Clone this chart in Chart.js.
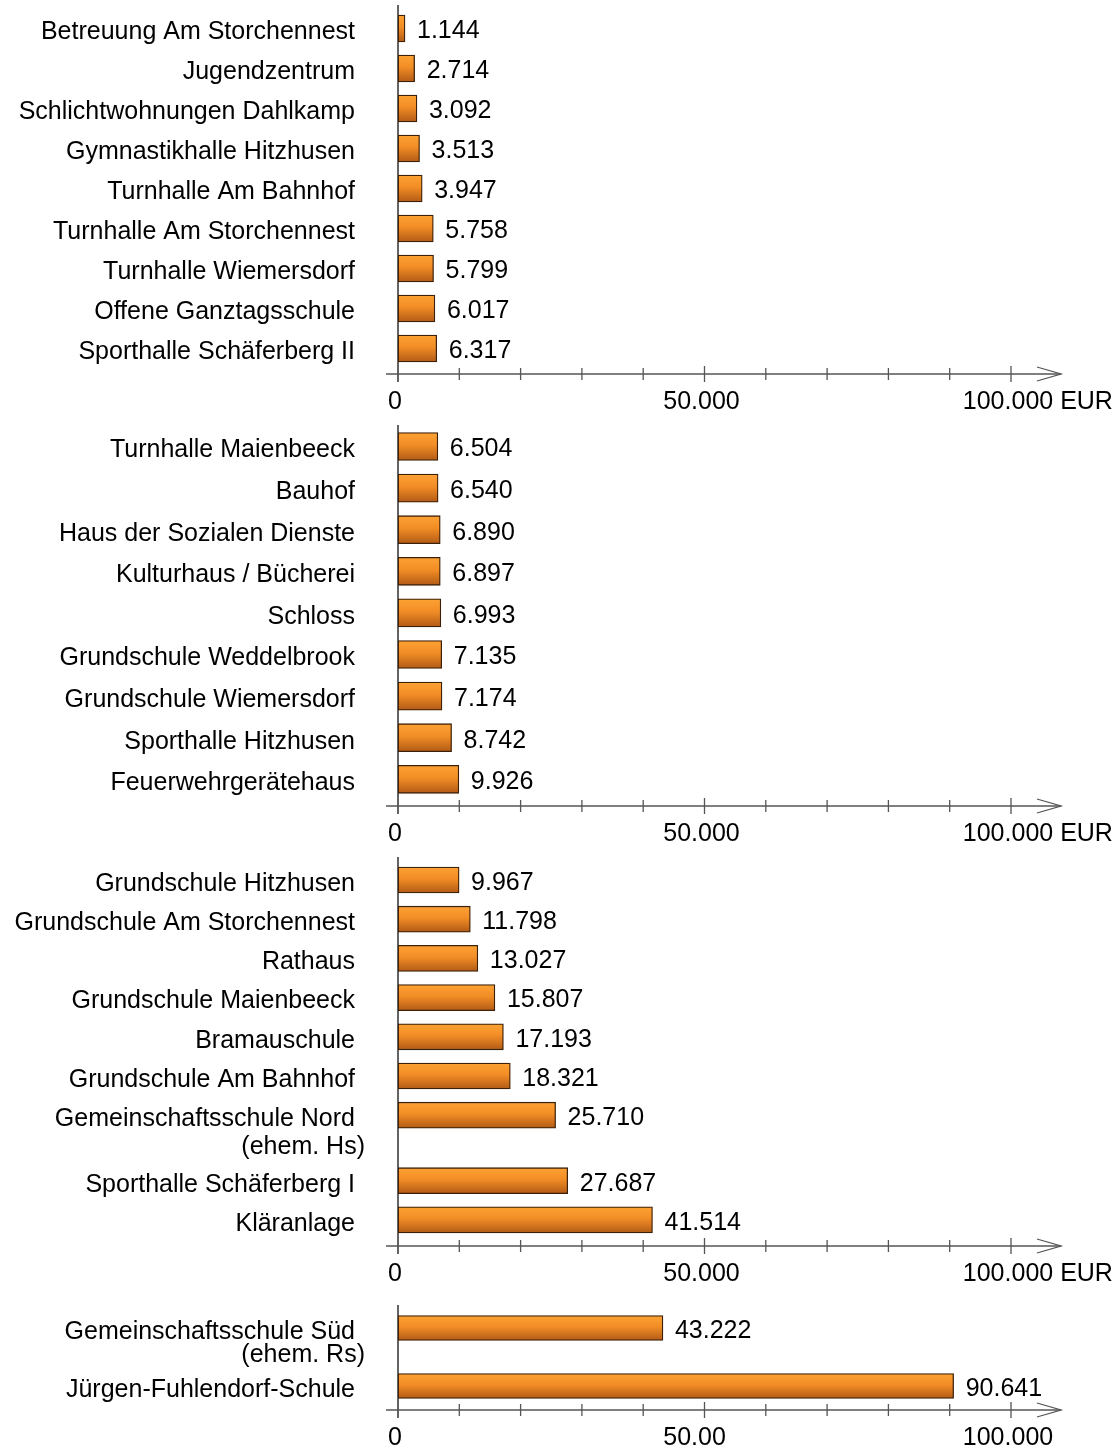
<!DOCTYPE html>
<html>
<head>
<meta charset="utf-8">
<script src="https://cdn.jsdelivr.net/npm/chart.js@4.4.0/dist/chart.umd.min.js"></script>
<style>
  html, body { margin: 0; padding: 0; background: #fff; }
  #wrap { position: relative; width: 1119px; height: 1447px; overflow: hidden; }
  canvas { position: absolute; left: 0; }
</style>
</head>
<body>
<div id="wrap">
  <canvas id="p1"></canvas>
  <canvas id="p2"></canvas>
  <canvas id="p3"></canvas>
  <canvas id="p4"></canvas>
</div>
<script>
// data
const names1 = ['Betreuung Am Storchennest', 'Jugendzentrum', 'Schlichtwohnungen Dahlkamp', 'Gymnastikhalle Hitzhusen', 'Turnhalle Am Bahnhof', 'Turnhalle Am Storchennest', 'Turnhalle Wiemersdorf', 'Offene Ganztagsschule', 'Sporthalle Schäferberg II'];
const values1 = [1144, 2714, 3092, 3513, 3947, 5758, 5799, 6017, 6317];

const names2 = ['Turnhalle Maienbeeck', 'Bauhof', 'Haus der Sozialen Dienste', 'Kulturhaus / Bücherei', 'Schloss', 'Grundschule Weddelbrook', 'Grundschule Wiemersdorf', 'Sporthalle Hitzhusen', 'Feuerwehrgerätehaus'];
const values2 = [6504, 6540, 6890, 6897, 6993, 7135, 7174, 8742, 9926];

const names3 = ['Grundschule Hitzhusen', 'Grundschule Am Storchennest', 'Rathaus', 'Grundschule Maienbeeck', 'Bramauschule', 'Grundschule Am Bahnhof', ['Gemeinschaftsschule Nord', '(ehem. Hs)'], 'Sporthalle Schäferberg I', 'Kläranlage'];
const values3 = [9967, 11798, 13027, 15807, 17193, 18321, 25710, 27687, 41514];

const names4 = [['Gemeinschaftsschule Süd', '(ehem. Rs)'], 'Jürgen-Fuhlendorf-Schule'];
const values4 = [43222, 90641];

const tickValues = [0, 50000, 100000];
const tickLabels = ['0', '50.000', '100.000'];
const tickLabelsLast = ['0', '50.00', '100.000'];
const unit = 'EUR';

Chart.defaults.font.family = '"Liberation Sans", Arial, sans-serif';
Chart.defaults.font.size = 25;

const fmt = v => String(v).replace(/\B(?=(\d{3})+(?!\d))/g, '.');

function makePanel(id, names, values, ticks, showUnit, lay) {
  // row positions: a two-line label takes a bit more room
  const pos = [];
  let p = 0;
  names.forEach((n, i) => {
    pos.push(p);
    p += 1 + (Array.isArray(n) ? (n.length - 1) * 0.67 : 0);
  });

  const canvas = document.getElementById(id);
  canvas.style.top = lay.canvasTop + 'px';
  canvas.width = 1119;
  canvas.height = lay.canvasH;
  canvas.style.width = '1119px';
  canvas.style.height = lay.canvasH + 'px';

  const axisPlugin = {
    id: 'axisPlugin_' + id,
    beforeDatasetsDraw(chart) {
      const ctx = chart.ctx, x = chart.scales.x, a = chart.chartArea;
      const y0 = a.bottom;
      const x0 = x.getPixelForValue(0);
      ctx.save();
      ctx.strokeStyle = '#222';
      ctx.lineWidth = 1.4;
      ctx.beginPath();
      ctx.moveTo(x0, a.top);
      ctx.lineTo(x0, y0 + 8);
      ctx.stroke();

      ctx.strokeStyle = '#555';
      ctx.lineWidth = 1.3;
      ctx.beginPath();
      ctx.moveTo(x0 - 12, y0);
      ctx.lineTo(x.getPixelForValue(100000) + 50, y0);
      ctx.stroke();
      // arrow head
      const tip = x.getPixelForValue(100000) + 50;
      ctx.beginPath();
      ctx.moveTo(tip - 24, y0 - 7);
      ctx.lineTo(tip, y0);
      ctx.lineTo(tip - 24, y0 + 7);
      ctx.stroke();

      for (let v = 10000; v <= 100000; v += 10000) {
        const px = x.getPixelForValue(v);
        const len = v % 50000 === 0 ? 8 : 6;
        ctx.beginPath();
        ctx.moveTo(px, y0 - len);
        ctx.lineTo(px, y0 + len);
        ctx.stroke();
      }

      ctx.fillStyle = '#000';
      ctx.font = '25px "Liberation Sans", Arial, sans-serif';
      ctx.textBaseline = 'middle';
      ctx.textAlign = 'left';
      tickValues.forEach((v, i) => {
        const full = fmt(v);
        const sx = x.getPixelForValue(v) - ctx.measureText(full).width / 2 - 3;
        let t = ticks[i];
        if (showUnit && i === tickValues.length - 1) t += ' ' + unit;
        ctx.fillText(t, sx, y0 + 28);
      });
      ctx.restore();
    },
    afterDatasetsDraw(chart) {
      const ctx = chart.ctx, x = chart.scales.x, y = chart.scales.y;
      ctx.save();
      ctx.fillStyle = '#000';
      ctx.font = '25px "Liberation Sans", Arial, sans-serif';
      ctx.textBaseline = 'middle';
      values.forEach((v, i) => {
        const yc = y.getPixelForValue(pos[i]);
        ctx.textAlign = 'left';
        ctx.fillText(fmt(v), x.getPixelForValue(v) + 12, yc + 3);
        const lines = Array.isArray(names[i]) ? names[i] : [names[i]];
        ctx.textAlign = 'right';
        lines.forEach((ln, k) => {
          ctx.fillText(ln, k === 0 ? 355 : 365, yc + 4 + k * lay.lineH);
        });
      });
      ctx.restore();
    }
  };

  return new Chart(canvas, {
    type: 'bar',
    data: {
      datasets: [{
        data: values.map((v, i) => ({ x: v, y: pos[i] })),
        barThickness: lay.bar,
        borderColor: '#3d2008',
        borderWidth: 1.3,
        borderSkipped: false,
        backgroundColor: function (c) {
          const ch = c.chart;
          if (!ch.chartArea || !c.raw) return '#f0902a';
          const yc = ch.scales.y.getPixelForValue(c.raw.y);
          const h = lay.bar / 2;
          const g = ch.ctx.createLinearGradient(0, yc - h, 0, yc + h);
          g.addColorStop(0, '#fda233');
          g.addColorStop(0.45, '#f28d26');
          g.addColorStop(1, '#b25b16');
          return g;
        }
      }]
    },
    options: {
      indexAxis: 'y',
      responsive: false,
      animation: false,
      layout: {
        padding: {
          left: 398,
          right: 108,
          top: lay.top - lay.canvasTop,
          bottom: lay.canvasTop + lay.canvasH - lay.axis
        }
      },
      scales: {
        x: { type: 'linear', min: 0, max: 100000, display: false },
        y: {
          type: 'linear',
          reverse: true,
          offset: false,
          min: -(lay.first - lay.top) / lay.step,
          max: (lay.axis - lay.first) / lay.step,
          display: false
        }
      },
      plugins: {
        legend: { display: false },
        tooltip: { enabled: false }
      }
    },
    plugins: [axisPlugin]
  });
}

makePanel('p1', names1, values1, tickLabels, true,
  { canvasTop: 0, canvasH: 418, top: 5, axis: 374, first: 28.5, step: 40, bar: 27, lineH: 27 });
makePanel('p2', names2, values2, tickLabels, true,
  { canvasTop: 418, canvasH: 434, top: 425, axis: 806, first: 446.5, step: 41.6, bar: 28, lineH: 27 });
makePanel('p3', names3, values3, tickLabels, true,
  { canvasTop: 852, canvasH: 444, top: 857, axis: 1246, first: 880, step: 39.2, bar: 26, lineH: 28 });
makePanel('p4', names4, values4, tickLabelsLast, false,
  { canvasTop: 1296, canvasH: 151, top: 1305, axis: 1410, first: 1328, step: 34.73, bar: 25, lineH: 23 });
</script>
</body>
</html>
